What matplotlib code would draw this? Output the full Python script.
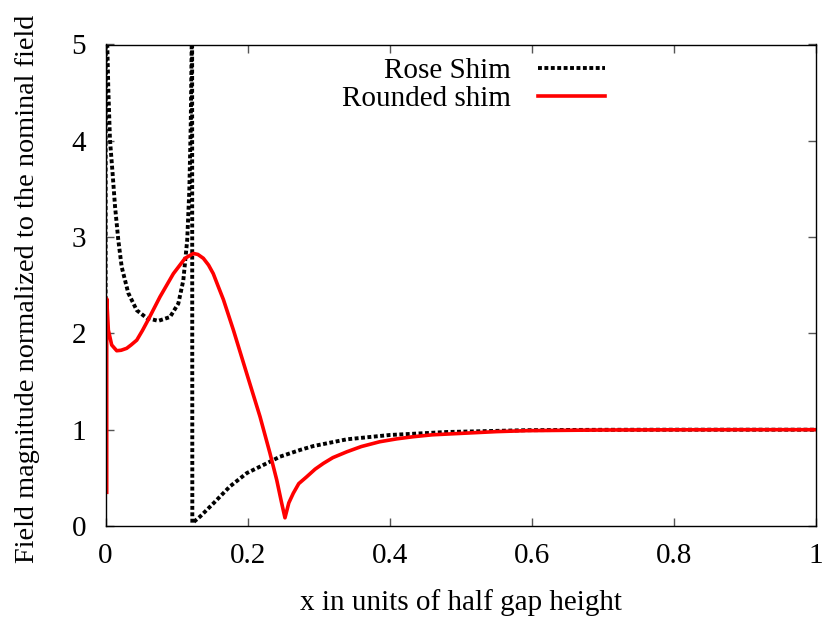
import matplotlib
matplotlib.use("Agg")
import matplotlib.pyplot as plt
import numpy as np

# Rose shim: singular at x=0 and at the shim edge (x~0.122)
rose_x1 = [0.0, 0.0005, 0.0025, 0.004, 0.0063, 0.010, 0.0134, 0.018, 0.0228, 0.032, 0.044, 0.058,
           0.0743, 0.0908, 0.1025, 0.1095, 0.115, 0.118, 0.120, 0.1213, 0.1217]
rose_y1 = [0.35, 9.0, 5.0, 4.53, 4.01, 3.66, 3.32, 2.97, 2.69, 2.42, 2.24, 2.16,
           2.13, 2.17, 2.31, 2.55, 2.97, 3.49, 4.18, 5.0, 9.0]
rose_x2 = [0.1222, 0.133, 0.152, 0.175, 0.199, 0.222, 0.2456, 0.274, 0.2925, 0.3395, 0.400,
           0.48, 0.593, 0.7, 0.8, 0.9, 1.0]
rose_y2 = [0.03, 0.097, 0.236, 0.41, 0.55, 0.633, 0.72, 0.79, 0.83, 0.90, 0.945,
           0.976, 0.995, 0.999, 1.0, 1.0, 1.0]

# Rounded shim
round_x = [0.0017, 0.0017, 0.004, 0.0087, 0.0158, 0.022, 0.0298, 0.036, 0.044, 0.052, 0.060,
           0.0767, 0.0955, 0.112, 0.1236, 0.130, 0.1377, 0.145, 0.1517, 0.158, 0.166, 0.180,
           0.1987, 0.2175, 0.2315, 0.241, 0.248, 0.2526, 0.258, 0.2643, 0.272, 0.283, 0.295,
           0.3066, 0.32, 0.3395, 0.36, 0.386, 0.41, 0.433, 0.46, 0.5036, 0.55, 0.593, 0.7,
           0.8, 0.9, 1.0]
round_y = [0.35, 2.36, 2.035, 1.88, 1.82, 1.825, 1.845, 1.88, 1.93, 2.03, 2.14,
           2.38, 2.62, 2.78, 2.83, 2.82, 2.78, 2.71, 2.62, 2.50, 2.35, 2.035,
           1.585, 1.135, 0.755, 0.478, 0.236, 0.085, 0.24, 0.34, 0.44, 0.51, 0.59,
           0.65, 0.71, 0.77, 0.825, 0.875, 0.905, 0.927, 0.947, 0.963, 0.98, 0.99, 0.997,
           0.999, 1.0, 1.0]

xticks = [0, 0.2, 0.4, 0.6, 0.8, 1]
xticklabels = ["0", "0.2", "0.4", "0.6", "0.8", "1"]
yticks = [0, 1, 2, 3, 4, 5]

plt.rcParams['font.family'] = ['Liberation Serif', 'DejaVu Serif']
plt.rcParams['font.size'] = 21

fig = plt.figure(figsize=(8.23, 6.18), dpi=100)
ax = fig.add_axes([105.5 / 823, 1 - 526 / 618, (816 - 105.5) / 823, (526 - 44.5) / 618])

ax.plot(rose_x1 + rose_x2, rose_y1 + rose_y2, color='black', lw=2.8,
        linestyle=(0, (1.0, 0.65)), label='Rose Shim')
ax.plot(round_x, round_y, color='#ff0000', lw=2.6, solid_joinstyle='round',
        label='Rounded shim')

ax.set_xlim(0, 1)
ax.set_ylim(0, 5)
ax.set_xticks(xticks)
ax.set_xticklabels(xticklabels)
ax.set_yticks(yticks)
ax.tick_params(direction='in', length=6, width=1, color='#555555',
               top=True, right=True, pad=12)
ax.tick_params(axis='y', pad=14)
for s in ax.spines.values():
    s.set_linewidth(1.0)

ax.set_xlabel('x in units of half gap height', labelpad=15)
ax.set_ylabel('Field magnitude normalized to the nominal field', fontsize=20.3)
ax.yaxis.set_label_coords(-0.092, 0.492)

leg = ax.legend(loc='upper right', bbox_to_anchor=(0.7037, 0.972), frameon=False,
                markerfirst=False, handlelength=2.3, handletextpad=0.95,
                borderpad=0, borderaxespad=0, labelspacing=0.05)

fig.savefig("out.png", dpi=100)
